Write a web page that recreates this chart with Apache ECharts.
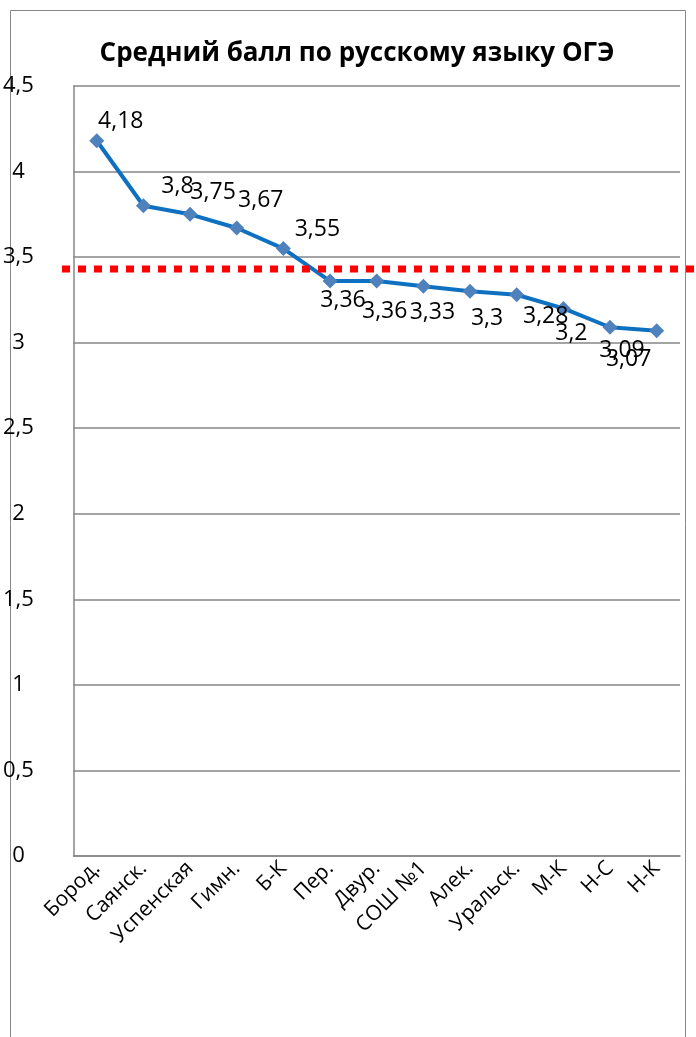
<!DOCTYPE html>
<html><head><meta charset="utf-8">
<script src="https://cdn.jsdelivr.net/npm/echarts@6/dist/echarts.min.js"></script>
<style>html,body{margin:0;padding:0;background:#fff}#c{width:696px;height:1037px}</style>
</head><body><div id="c"></div>
<script>
const titleText = 'Средний балл по русскому языку ОГЭ';
const categories = ['Бород.','Саянск.','Успенская','Гимн.','Б-К','Пер.','Двур.','СОШ №1','Алек.','Уральск.','М-К','Н-С','Н-К'];
const scores = [4.18,3.8,3.75,3.67,3.55,3.36,3.36,3.33,3.3,3.28,3.2,3.09,3.07];
const averageLine = [3.43];
const yTicks = [0,0.5,1,1.5,2,2.5,3,3.5,4,4.5];

// label placement styling (offsets in px relative to the point)
const labelOffsets = [[24,-19],[34,-19],[23,-22],[24,-28],[34,-19],[13,19],[8,30],[9,26],[17,27],[29,22],[8,25],[12,23],[-28,29]];

const FONT = 'Open Sans';
const fmt = v => String(v).replace('.', ',');

const chart = echarts.init(document.getElementById('c'), null, {renderer:'canvas'});
const option = {
  animation:false,
  backgroundColor:'#fff',
  title:{text:titleText,left:352,top:36,textAlign:'center',
    textStyle:{fontFamily:FONT,fontWeight:'bold',fontSize:26,color:'#000'}},
  grid:{left:72,right:16,top:86,bottom:181,containLabel:false},
  xAxis:{type:'category',data:categories,boundaryGap:true,
    axisLine:{lineStyle:{color:'#868686',width:1.5}},
    axisTick:{show:false},
    axisLabel:{rotate:45,interval:0,margin:9,fontFamily:FONT,fontSize:21,color:'#000'}},
  yAxis:{type:'value',min:0,max:4.5,interval:0.5,
    axisLine:{show:true,lineStyle:{color:'#868686',width:1.5}},
    axisTick:{show:false},
    splitLine:{lineStyle:{color:'#868686',width:1.5}},
    axisLabel:{align:'center',margin:55,fontFamily:FONT,fontSize:22,color:'#000',
      formatter:v=>fmt(v)}},
  series:[{type:'line',
    data:scores.map((v,i)=>({value:v,label:{offset:labelOffsets[i]}})),
    symbol:'diamond',symbolSize:15,
    itemStyle:{color:'#4F81BD'},
    lineStyle:{color:'#0E70C0',width:4},
    label:{show:true,position:'inside',fontFamily:FONT,fontSize:23,color:'#000',
      formatter:p=>fmt(p.value)},
    z:3}]
};
chart.setOption(option);
const y = chart.convertToPixel({yAxisIndex:0}, averageLine[0]);
const gl = 72;
chart.setOption({graphic:[
  {type:'rect',shape:{x:10.5,y:10.5,width:675,height:1040},style:{fill:'none',stroke:'#868686',lineWidth:1},silent:true,z:0},
  {type:'line',shape:{x1:gl-10,y1:y,x2:696,y2:y},style:{stroke:'#FF0000',lineWidth:7,lineDash:[8,8]},silent:true,z:10}
]});
</script></body></html>
